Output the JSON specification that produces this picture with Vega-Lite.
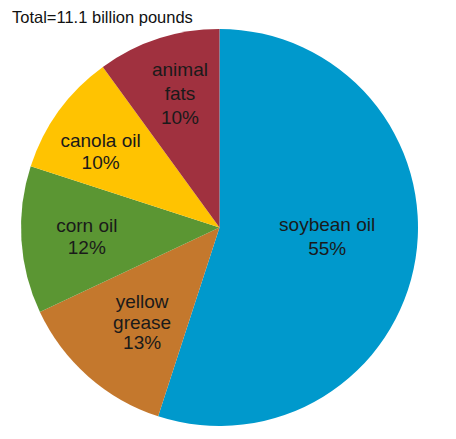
{
  "$schema": "https://vega.github.io/schema/vega-lite/v6.json",
  "width": 439,
  "height": 423,
  "autosize": "none",
  "padding": {"left": 0, "top": 16, "right": 17, "bottom": 0},
  "background": "white",
  "view": {"stroke": null},
  "title": {
    "text": "Total=11.1 billion pounds",
    "anchor": "start",
    "frame": "group",
    "font": "Liberation Sans",
    "fontSize": 16.5,
    "fontWeight": "normal",
    "color": "#111111",
    "baseline": "alphabetic",
    "offset": 0,
    "dx": 12,
    "dy": 23
  },
  "data": {
    "values": [
      {"i": 1, "source": "soybean oil", "share": 55, "label": "soybean oil\n55%"},
      {"i": 2, "source": "yellow grease", "share": 13, "label": "yellow\ngrease\n13%"},
      {"i": 3, "source": "corn oil", "share": 12, "label": "corn oil\n12%"},
      {"i": 4, "source": "canola oil", "share": 10, "label": "canola oil\n10%"},
      {"i": 5, "source": "animal fats", "share": 10, "label": "animal\nfats\n10%"}
    ]
  },
  "encoding": {
    "theta": {"field": "share", "type": "quantitative", "stack": true},
    "order": {"field": "i", "type": "quantitative"}
  },
  "layer": [
    {
      "mark": {"type": "arc", "radius": 198.5, "stroke": null},
      "encoding": {
        "color": {
          "field": "source",
          "type": "nominal",
          "legend": null,
          "scale": {
            "domain": ["soybean oil", "yellow grease", "corn oil", "canola oil", "animal fats"],
            "range": ["#0099CC", "#C4782D", "#5B9633", "#FFC301", "#A0313F"]
          }
        }
      }
    },
    {
      "mark": {"type": "text", "radius": 109, "dy": -20, "font": "Liberation Sans", "fontSize": 19, "lineBreak": "\n", "lineHeight": 24, "color": "#1a1a1a", "baseline": "middle", "align": "center"},
      "encoding": {
        "text": {"condition": {"test": "datum.source === 'soybean oil'", "field": "label"}, "value": ""}
      }
    },
    {
      "mark": {"type": "text", "radius": 117, "dy": -13, "font": "Liberation Sans", "fontSize": 19, "lineBreak": "\n", "lineHeight": 20.5, "color": "#1a1a1a", "baseline": "middle", "align": "center"},
      "encoding": {
        "text": {"condition": {"test": "datum.source === 'yellow grease'", "field": "label"}, "value": ""}
      }
    },
    {
      "mark": {"type": "text", "radius": 133, "dy": -10, "font": "Liberation Sans", "fontSize": 19, "lineBreak": "\n", "lineHeight": 22, "color": "#1a1a1a", "baseline": "middle", "align": "center"},
      "encoding": {
        "text": {"condition": {"test": "datum.source === 'corn oil'", "field": "label"}, "value": ""}
      }
    },
    {
      "mark": {"type": "text", "radius": 147, "dy": 0, "font": "Liberation Sans", "fontSize": 19, "lineBreak": "\n", "lineHeight": 22, "color": "#1a1a1a", "baseline": "middle", "align": "center"},
      "encoding": {
        "text": {"condition": {"test": "datum.source === 'canola oil'", "field": "label"}, "value": ""}
      }
    },
    {
      "mark": {"type": "text", "radius": 128, "dy": -36, "font": "Liberation Sans", "fontSize": 19, "lineBreak": "\n", "lineHeight": 24, "color": "#1a1a1a", "baseline": "middle", "align": "center"},
      "encoding": {
        "text": {"condition": {"test": "datum.source === 'animal fats'", "field": "label"}, "value": ""}
      }
    }
  ]
}
